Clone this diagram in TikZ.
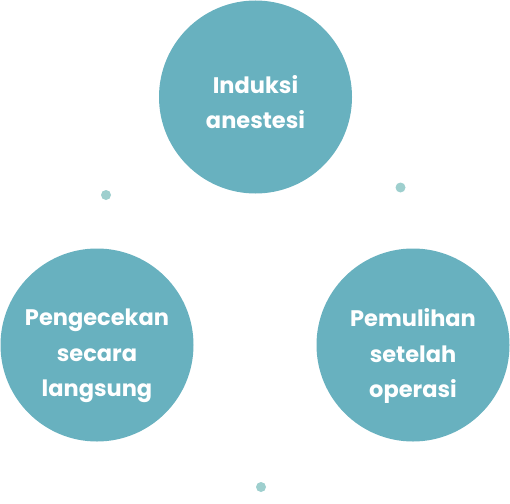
\documentclass[tikz,border=0pt]{standalone}
\usepackage{fontspec}
\setmainfont{Poppins}
\definecolor{circ}{HTML}{68B1BF}
\definecolor{dotc}{HTML}{9ECFCE}
\begin{document}
\begin{tikzpicture}[x=1pt,y=-1pt,
  bubble/.style={circle,fill=circ,minimum size=193pt,inner sep=0pt},
  label/.style={text=white,font=\fontsize{22.5}{35.5}\selectfont\bfseries,align=center,inner sep=0pt},
  dotn/.style={circle,fill=dotc,minimum size=10pt,inner sep=0pt}]
\useasboundingbox (0,0) rectangle (510,503);
\node[bubble] (top) at (255.5,97) {};
\node[bubble] (left) at (97,345) {};
\node[bubble] (right) at (413,345) {};
\node[label] (toptxt) at ([yshift=-5pt]top.center) {Induksi\\anestesi};
\node[label] (lefttxt) at ([yshift=-11pt]left.center) {Pengecekan\\secara\\langsung};
\node[label] (righttxt) at ([yshift=-11pt]right.center) {Pemulihan\\setelah\\operasi};
\node[dotn] (d1) at (106,195) {};
\node[dotn] (d2) at (400.5,187.5) {};
\node[dotn] (d3) at (261,487) {};
\end{tikzpicture}
\end{document}
